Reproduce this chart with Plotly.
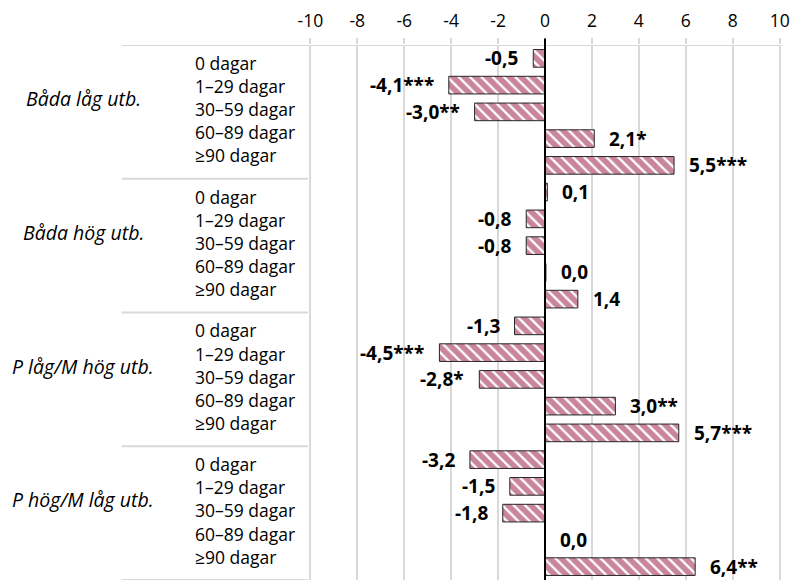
import plotly.graph_objects as go

# ── Data ───────────────────────────────────────────────────────
GROUPS = ["Båda låg utb.", "Båda hög utb.", "P låg/M hög utb.", "P hög/M låg utb."]
DAYS = ["0 dagar", "1–29 dagar", "30–59 dagar", "60–89 dagar", "≥90 dagar"]

VALUES_BADA_LAG = [-0.5, -4.1, -3.0, 2.1, 5.5]
VALUES_BADA_HOG = [0.1, -0.8, -0.8, 0.04, 1.4]
VALUES_P_LAG_M_HOG = [-1.3, -4.5, -2.8, 3.0, 5.7]
VALUES_P_HOG_M_LAG = [-3.2, -1.5, -1.8, 0.0, 6.4]

STARS_BADA_LAG = ["", "***", "**", "*", "***"]
STARS_BADA_HOG = ["", "", "", "", ""]
STARS_P_LAG_M_HOG = ["", "***", "*", "**", "***"]
STARS_P_HOG_M_LAG = ["", "", "", "", "**"]

X_TICKS = [-10, -8, -6, -4, -2, 0, 2, 4, 6, 8, 10]
# ───────────────────────────────────────────────────────────────

values = VALUES_BADA_LAG + VALUES_BADA_HOG + VALUES_P_LAG_M_HOG + VALUES_P_HOG_M_LAG
stars = STARS_BADA_LAG + STARS_BADA_HOG + STARS_P_LAG_M_HOG + STARS_P_HOG_M_LAG
pos = list(range(len(values)))
n_days = len(DAYS)

RED = "#940C37"
GRID = "#D9D9D9"
FONT = "Open Sans"

fig = go.Figure()
fig.add_trace(go.Bar(
    x=values, y=pos, orientation="h",
    width=0.66,
    marker=dict(
        color="white",
        line=dict(color="#262626", width=1),
        pattern=dict(shape="\\", fgcolor=RED, bgcolor="white",
                     size=8, solidity=0.72, fillmode="overlay"),
    ),
    showlegend=False,
    hoverinfo="skip",
))

annotations = []
# value labels
for p, v, s in zip(pos, values, stars):
    txt = f"{v:.1f}".replace(".", ",").replace("-0,0", "0,0") + s
    neg = v < 0
    annotations.append(dict(
        x=v, y=p, xref="x", yref="y", text=f"<b>{txt}</b>",
        showarrow=False, xanchor="right" if neg else "left",
        xshift=-13 if neg else 13,
        font=dict(family=FONT, size=19, color="black"),
    ))

# day labels (compressed toward group centre like the original)
for g in range(len(GROUPS)):
    centre = g * n_days + (n_days - 1) / 2
    for i, d in enumerate(DAYS):
        yy = centre - 0.1 + (i - (n_days - 1) / 2) * 0.865
        annotations.append(dict(
            x=-0.242, y=yy, xref="paper", yref="y", text=d,
            showarrow=False, xanchor="left",
            font=dict(family=FONT, size=17.5, color="black"),
        ))
    annotations.append(dict(
        x=-0.474, y=centre - 0.5, xref="paper", yref="y",
        text=f"<i>{GROUPS[g]}</i>", showarrow=False, xanchor="center",
        font=dict(family=FONT, size=19.5, color="black"),
    ))

shapes = []
# group separators in the category area
for g in range(len(GROUPS) + 1):
    yb = g * n_days - 0.5
    shapes.append(dict(
        type="line", xref="paper", yref="y",
        x0=-0.393, x1=1 if g == 0 else 0, y0=yb, y1=yb,
        line=dict(color=GRID, width=2),
    ))
# vertical axis line at zero
shapes.append(dict(
    type="line", xref="x", yref="paper", x0=0, x1=0, y0=0, y1=1.012,
    line=dict(color="black", width=2),
))

fig.update_xaxes(
    side="top", range=[-10.1, 10.1], tickvals=X_TICKS,
    ticktext=[str(t) for t in X_TICKS],
    showgrid=True, gridcolor=GRID, gridwidth=1.5,
    zeroline=False, showline=False,
    ticks="outside", ticklen=6, tickcolor=GRID, tickwidth=1.5,
    ticklabelstandoff=4,
    tickfont=dict(family=FONT, size=17.5, color="black"),
)
fig.update_yaxes(
    range=[len(values) - 0.5, -0.5], showticklabels=False,
    showgrid=False, zeroline=False, showline=False, ticks="",
)
# page body has an 8px margin; keep the figure inside the visible window
fig.update_layout(
    width=783, height=572,
    margin=dict(l=300, r=9, t=34, b=0),
    plot_bgcolor="white", paper_bgcolor="white",
    annotations=annotations, shapes=shapes,
    bargap=0.34,
)

fig.write_html("out.html")
